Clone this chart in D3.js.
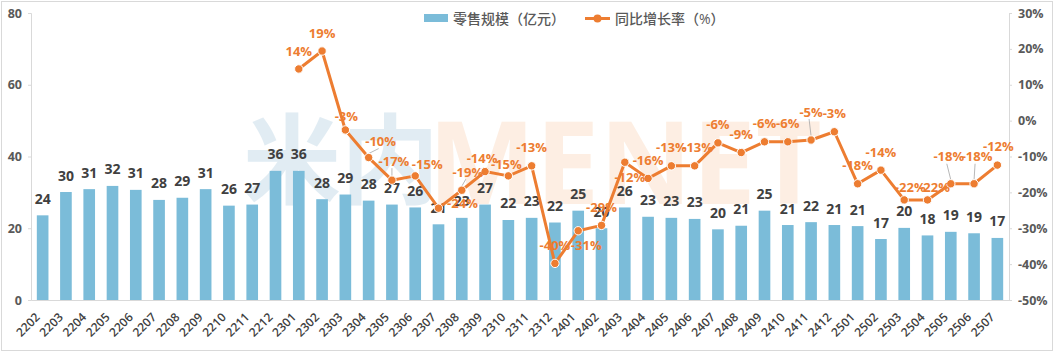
<!DOCTYPE html>
<html><head><meta charset="utf-8">
<script src="https://cdn.jsdelivr.net/npm/d3@7"></script>
<style>
html,body{margin:0;padding:0;background:#fff;}
svg{display:block;}
text{font-family:"Open Sans","Noto Sans CJK SC",sans-serif;}
</style></head>
<body>
<div id="chart"></div>
<script>
const categories = ["2202","2203","2204","2205","2206","2207","2208","2209","2210","2211","2212",
  "2301","2302","2303","2304","2305","2306","2307","2308","2309","2310","2311","2312",
  "2401","2402","2403","2404","2405","2406","2407","2408","2409","2410","2411","2412",
  "2501","2502","2503","2504","2505","2506","2507"];
const retailScale = [23.6,30.1,30.9,31.8,30.7,27.9,28.5,30.9,26.3,26.6,36.0,
  36.0,28.1,29.4,27.7,26.6,25.8,21.1,22.9,26.6,22.3,22.9,21.6,
  24.9,20.0,25.8,23.2,22.9,22.6,19.7,20.7,24.9,20.9,21.7,20.9,
  20.6,17.0,20.1,18.0,19.0,18.6,17.3];
const yoyGrowth = [null,null,null,null,null,null,null,null,null,null,null,
  14.4,19.4,-2.6,-10.3,-16.6,-15.4,-24.4,-19.4,-14.2,-15.4,-12.6,-39.8,
  -30.7,-29.2,-11.6,-16.1,-12.6,-12.6,-6.2,-8.9,-5.9,-5.9,-5.4,-3.1,
  -17.6,-13.8,-22.1,-22.1,-17.6,-17.6,-12.4];
const leftTicks = [0,20,40,60,80];
const rightTicks = [-50,-40,-30,-20,-10,0,10,20,30];
const seriesNames = ["零售规模（亿元）","同比增长率（%）"];
// label nudges (annotation placement only)
const labelNudge = {
  "2303":{dx:1,dy:4},"2304":{dx:12,dy:2,leader:true},"2305":{dx:2,dy:-1,leader:true},
  "2306":{dx:12,dy:7},"2307":{dx:24,dy:13},"2308":{dx:6,dy:0,leader:true},
  "2309":{dx:-3,dy:5},"2310":{dx:-2,dy:7},"2401":{dx:8,dy:33},"2403":{dx:5,dy:33},
  "2406":{dx:3,dy:0},"2411":{dx:0,dy:-10,leader:true},"2503":{dx:6,dy:5},
  "2504":{dx:7,dy:5},"2505":{dx:-2,dy:-9,leader:true},"2506":{dx:3,dy:-9,leader:true},
  "2507":{dx:1,dy:-1}
};

const W = 1058, H = 355;
const m = {left:31, right:49, top:13, bottom:55};
const blue = "#7bbcd9", orange = "#ed7d31", axisCol = "#d9d9d9";
const loc = d3.formatLocale({decimal:".",thousands:",",grouping:[3],currency:["",""],minus:"-"});
const f0 = loc.format(".0f");

const svg = d3.select("#chart").append("svg").attr("width",W).attr("height",H);
svg.append("rect").attr("x",1.5).attr("y",1.5).attr("width",1051).attr("height",349)
  .attr("fill","#fff").attr("stroke","#d9d9d9");

const x = d3.scaleBand().domain(categories).range([m.left, W-m.right]).paddingInner(0.5).paddingOuter(0.25);
const yL = d3.scaleLinear().domain([0,80]).range([H-m.bottom, m.top]);
const yR = d3.scaleLinear().domain([-50,30]).range([H-m.bottom, m.top]);

// watermark
const wm = svg.append("g");
wm.append("text").attr("x",243).attr("y",196).attr("font-size",98).attr("font-weight",700)
  .attr("font-family","Noto Sans CJK SC").attr("fill","#c4dbe9").attr("opacity",0.5).text("米内");
wm.append("text").attr("x",428).attr("y",204).attr("font-size",114).attr("font-weight",700)
  .attr("fill","#fbd9bd").attr("opacity",0.42).text("MENET");

// axes
const gL = svg.append("g").attr("transform",`translate(${m.left},0)`)
  .call(d3.axisLeft(yL).tickValues(leftTicks).tickSize(3).tickPadding(6));
const gR = svg.append("g").attr("transform",`translate(${W-m.right},0)`)
  .call(d3.axisRight(yR).tickValues(rightTicks).tickSize(3).tickPadding(6).tickFormat(d=>f0(d)+"%"));
[gL,gR].forEach(g=>{
  g.select(".domain").attr("stroke",axisCol);
  g.selectAll(".tick line").attr("stroke",axisCol);
  g.selectAll("text").attr("fill","#595959").attr("font-size",12.5).attr("font-weight",700);
});
const gX = svg.append("g").attr("transform",`translate(0,${H-m.bottom})`)
  .call(d3.axisBottom(x).tickSize(0).tickPadding(0));
gX.select(".domain").attr("stroke",axisCol);
gX.selectAll("text").attr("text-anchor","end").attr("fill","#404040")
  .attr("font-size",12).attr("font-weight",600)
  .attr("transform","translate(-2,18) rotate(-45)").attr("dy",0).attr("y",0);

// bars
svg.append("g").selectAll("rect").data(categories).join("rect")
  .attr("x",d=>x(d)).attr("width",x.bandwidth())
  .attr("y",(d,i)=>yL(retailScale[i])).attr("height",(d,i)=>yL(0)-yL(retailScale[i]))
  .attr("fill",blue);
svg.append("g").selectAll("text").data(categories).join("text")
  .attr("x",d=>x(d)+x.bandwidth()/2).attr("y",(d,i)=>yL(retailScale[i])-11.5)
  .attr("text-anchor","middle").attr("font-size",14).attr("font-weight",700).attr("fill","#404040")
  .text((d,i)=>f0(retailScale[i]));

// line
const pts = categories.map((c,i)=>({c, v:yoyGrowth[i]})).filter(p=>p.v!==null);
const cx = c=>x(c)+x.bandwidth()/2;
const line = d3.line().x(p=>cx(p.c)).y(p=>yR(p.v));
svg.append("path").datum(pts).attr("d",line).attr("fill","none")
  .attr("stroke",orange).attr("stroke-width",3).attr("stroke-linejoin","round");

// leader lines
const lblPos = p=>{
  const n = labelNudge[p.c]||{dx:0,dy:0};
  return {x:cx(p.c)+n.dx, y:yR(p.v)-18+n.dy, leader:!!n.leader};
};
svg.append("g").selectAll("line").data(pts.filter(p=>lblPos(p).leader)).join("line")
  .attr("x1",p=>lblPos(p).x-2).attr("y1",p=>lblPos(p).y+7)
  .attr("x2",p=>cx(p.c)).attr("y2",p=>yR(p.v)-4)
  .attr("stroke","#a6a6a6").attr("stroke-width",0.8);

svg.append("g").selectAll("circle").data(pts).join("circle")
  .attr("cx",p=>cx(p.c)).attr("cy",p=>yR(p.v)).attr("r",4.2)
  .attr("fill",orange).attr("stroke","#fff").attr("stroke-width",1);

svg.append("g").selectAll("text").data(pts).join("text")
  .attr("x",p=>lblPos(p).x).attr("y",p=>lblPos(p).y+4.6)
  .attr("text-anchor","middle").attr("font-size",13).attr("font-weight",700).attr("fill",orange)
  .text(p=>f0(p.v)+"%");

// legend
const lg = svg.append("g");
lg.append("rect").attr("x",424).attr("y",14).attr("width",24).attr("height",8).attr("fill",blue);
lg.append("text").attr("x",453).attr("y",24).attr("font-size",14).attr("fill","#595959")
  .attr("font-family","Noto Sans CJK SC").attr("font-weight",500).text(seriesNames[0]);
lg.append("line").attr("x1",585).attr("x2",610).attr("y1",18.5).attr("y2",18.5)
  .attr("stroke",orange).attr("stroke-width",3);
lg.append("circle").attr("cx",597.5).attr("cy",18.5).attr("r",4).attr("fill",orange);
lg.append("text").attr("x",615).attr("y",24).attr("font-size",14).attr("fill","#595959")
  .attr("font-family","Noto Sans CJK SC").attr("font-weight",500).text(seriesNames[1]);
</script>
</body></html>
